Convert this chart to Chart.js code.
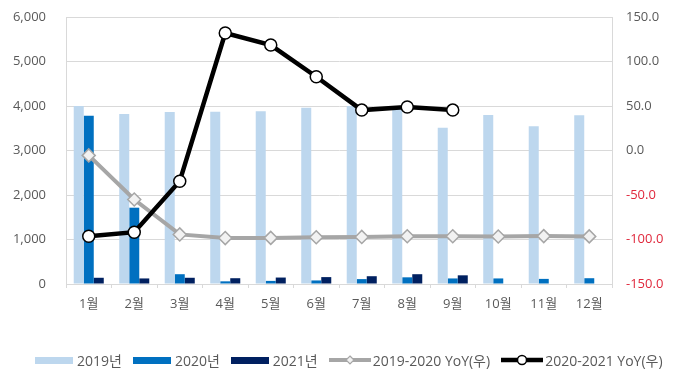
<!DOCTYPE html>
<html>
<head>
<meta charset="utf-8">
<script src="https://cdn.jsdelivr.net/npm/chart.js@4"></script>
<style>
  html, body { margin: 0; padding: 0; background: #fff; }
  #wrap { position: relative; width: 680px; height: 379px; }
  canvas { position: absolute; left: 0; top: 0; }
  #legend { position: absolute; left: 35px; top: 350px; height: 20px; display: flex; align-items: center;
    font-family: "Open Sans", "Noto Sans CJK KR", sans-serif; font-size: 14px; color: #595959; white-space: nowrap; }
  .item { display: flex; align-items: center; margin-right: 11px; }
  .box { width: 38px; height: 7px; margin-right: 4px; }
  svg { margin-right: 2px; }
</style>
</head>
<body>
<div id="wrap">
  <canvas id="c" width="680" height="379"></canvas>
  <div id="legend"></div>
</div>
<script>
const categories = ['1월','2월','3월','4월','5월','6월','7월','8월','9월','10월','11월','12월'];
const sales2019 = [4000, 3820, 3865, 3870, 3880, 3960, 4000, 3950, 3510, 3800, 3545, 3790];
const sales2020 = [3780, 1715, 220, 60, 70, 80, 110, 150, 125, 125, 115, 130];
const sales2021 = [140, 125, 140, 130, 145, 155, 175, 220, 195, null, null, null];
const yoy1920 = [-5.5, -55.1, -94.3, -98.4, -98.2, -97.4, -97.1, -96.4, -96.3, -96.6, -96.2, -96.5];
const yoy2021 = [-96.3, -91.8, -34.5, 132.0, 118.5, 82.9, 45.4, 48.8, 45.4, null, null, null];
const leftTicks = [0, 1000, 2000, 3000, 4000, 5000, 6000];
const rightTicks = [-150, -100, -50, 0, 50, 100, 150];

const names = ['2019년', '2020년', '2021년', '2019-2020 YoY(우)', '2020-2021 YoY(우)'];
const colors = ['#BDD7EE', '#0070C0', '#002060', '#A6A6A6', '#000000'];

const FONT = { family: '"Open Sans", "Noto Sans CJK KR", sans-serif', size: 13 };
const GRID = '#D9D9D9';

function fixV(w) {
  return s => { s.width = w; s.paddingTop = 0; s.paddingBottom = 0; };
}

new Chart(document.getElementById('c'), {
  data: {
    labels: categories,
    datasets: [
      { type: 'line', label: names[3], data: yoy1920, yAxisID: 'y1', order: 1,
        borderColor: colors[3], borderWidth: 4, tension: 0,
        pointStyle: 'rectRot', pointRadius: 6.5, pointBackgroundColor: '#F2F2F2',
        pointBorderColor: '#A6A6A6', pointBorderWidth: 1.5 },
      { type: 'line', label: names[4], data: yoy2021, yAxisID: 'y1', order: 0,
        borderColor: colors[4], borderWidth: 4.5, tension: 0,
        pointStyle: 'circle', pointRadius: 6, pointBackgroundColor: '#FFFFFF',
        pointBorderColor: '#000000', pointBorderWidth: 1.5 },
      { type: 'bar', label: names[0], data: sales2019, yAxisID: 'y', order: 2,
        backgroundColor: colors[0], categoryPercentage: 0.66, barPercentage: 1.0 },
      { type: 'bar', label: names[1], data: sales2020, yAxisID: 'y', order: 2,
        backgroundColor: colors[1], categoryPercentage: 0.66, barPercentage: 1.0 },
      { type: 'bar', label: names[2], data: sales2021, yAxisID: 'y', order: 2,
        backgroundColor: colors[2], categoryPercentage: 0.66, barPercentage: 1.0 }
    ]
  },
  options: {
    responsive: false,
    animation: false,
    layout: { padding: { top: 17, left: 0, right: 0, bottom: 0 } },
    plugins: { legend: { display: false }, tooltip: { enabled: false } },
    scales: {
      x: {
        offset: true,
        grid: { offset: true, drawOnChartArea: false, color: GRID, tickLength: 4 },
        border: { color: GRID },
        ticks: { font: FONT, color: '#595959', padding: 8 },
        afterFit: s => { s.height = 95; s.paddingLeft = 0; s.paddingRight = 0; }
      },
      y: {
        position: 'left', min: 0, max: 6000,
        afterBuildTicks: s => { s.ticks = leftTicks.map(v => ({ value: v })); },
        grid: { color: GRID, drawTicks: false, tickLength: 0 },
        border: { color: GRID },
        ticks: { font: FONT, color: '#595959', padding: 20,
          callback: v => v.toLocaleString('en-US') },
        afterFit: fixV(66)
      },
      y1: {
        position: 'right', min: -150, max: 150,
        afterBuildTicks: s => { s.ticks = rightTicks.map(v => ({ value: v })); },
        grid: { drawOnChartArea: false, drawTicks: false, tickLength: 0 },
        border: { color: GRID },
        ticks: { font: FONT, padding: 14,
          color: ctx => (ctx.tick && ctx.tick.value < 0) ? '#E0283C' : '#595959',
          callback: v => Number(v).toFixed(1) },
        afterFit: fixV(68)
      }
    }
  }
});

// HTML legend
const lg = document.getElementById('legend');
names.forEach((n, i) => {
  const it = document.createElement('div');
  it.className = 'item';
  if (i < 3) {
    const b = document.createElement('div');
    b.className = 'box';
    b.style.background = colors[i];
    it.appendChild(b);
  } else {
    const ns = 'http://www.w3.org/2000/svg';
    const svg = document.createElementNS(ns, 'svg');
    svg.setAttribute('width', '42'); svg.setAttribute('height', '14');
    const ln = document.createElementNS(ns, 'line');
    ln.setAttribute('x1', '0'); ln.setAttribute('x2', '42'); ln.setAttribute('y1', '7'); ln.setAttribute('y2', '7');
    ln.setAttribute('stroke', colors[i]); ln.setAttribute('stroke-width', i === 3 ? '4' : '4.5');
    svg.appendChild(ln);
    if (i === 3) {
      const p = document.createElementNS(ns, 'polygon');
      p.setAttribute('points', '21,3 25,7 21,11 17,7');
      p.setAttribute('fill', '#F2F2F2'); p.setAttribute('stroke', '#A6A6A6'); p.setAttribute('stroke-width', '1.2');
      svg.appendChild(p);
    } else {
      const c = document.createElementNS(ns, 'circle');
      c.setAttribute('cx', '21'); c.setAttribute('cy', '7'); c.setAttribute('r', '4.5');
      c.setAttribute('fill', '#FFFFFF'); c.setAttribute('stroke', '#000'); c.setAttribute('stroke-width', '1.5');
      svg.appendChild(c);
    }
    it.appendChild(svg);
  }
  const t = document.createElement('span');
  t.textContent = n;
  it.appendChild(t);
  lg.appendChild(it);
});
</script>
</body>
</html>
